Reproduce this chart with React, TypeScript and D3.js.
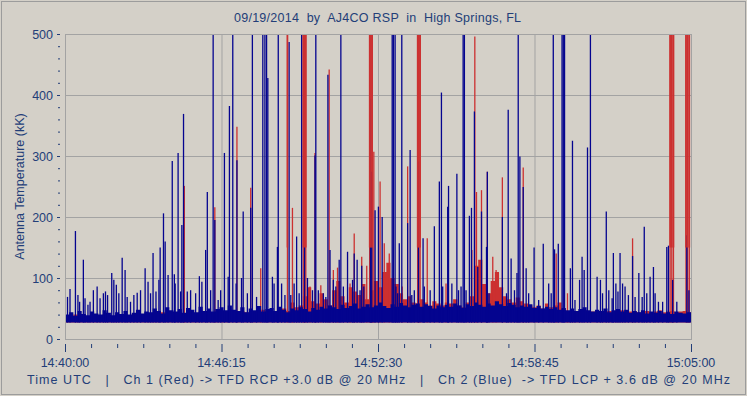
import React from 'react';
import * as d3 from 'd3';

const W = 747;
const H = 396;

const titleText = '09/19/2014  by  AJ4CO RSP  in  High Springs, FL';
const footerText = 'Time UTC   |   Ch 1 (Red) -> TFD RCP +3.0 dB @ 20 MHz   |   Ch 2 (Blue)  -> TFD LCP + 3.6 dB @ 20 MHz';
const yAxisTitle = 'Antenna Temperature (kK)';

// seconds after 14:40:00
const xTickSeconds = [0, 375, 750, 1125, 1500];
const xTickLabels = ['14:40:00', '14:46:15', '14:52:30', '14:58:45', '15:05:00'];
const yTicks = [0, 100, 200, 300, 400, 500];

// [seconds, kK] spikes of channel 2 (blue)
const blueSpikes: [number, number][] = [
  [6, 69], [12, 82], [25, 177], [31, 72], [35, 61], [44, 130], [48, 67], [55, 56], [60, 61], [68, 80],
  [77, 86], [84, 67], [92, 75], [97, 78], [102, 72], [112, 108], [117, 97], [123, 89], [129, 75], [137, 133],
  [144, 113], [149, 69], [157, 61], [165, 72], [173, 76], [181, 80], [192, 116], [199, 94], [205, 75], [211, 141],
  [218, 78], [225, 97], [228, 150], [236, 206], [240, 160], [247, 105], [257, 292], [262, 106], [264, 91], [271, 305],
  [277, 78], [280, 187], [284, 369], [293, 78], [301, 80], [313, 75], [322, 103], [328, 94], [337, 146], [341, 241],
  [349, 80], [355, 520], [359, 195], [367, 64], [373, 80], [382, 305], [391, 102], [394, 382], [402, 520], [410, 91],
  [412, 293], [423, 100], [427, 209], [437, 75], [445, 215], [449, 520], [459, 69], [474, 520], [479, 520], [483, 520],
  [486, 428], [497, 102], [501, 91], [509, 151], [511, 520], [519, 91], [527, 72], [537, 487], [541, 72], [549, 91],
  [555, 168], [561, 75], [567, 520], [574, 340], [581, 100], [593, 80], [599, 301], [601, 520], [607, 80], [619, 75],
  [625, 69], [630, 433], [635, 146], [643, 97], [649, 86], [657, 130], [661, 520], [667, 86], [677, 143], [689, 97],
  [693, 140], [700, 130], [707, 80], [711, 120], [716, 86], [732, 394], [735, 274], [743, 211], [751, 217], [760, 200],
  [784, 520], [787, 520], [791, 520], [793, 86], [797, 75], [801, 157], [807, 520], [821, 190], [827, 310], [831, 72],
  [837, 80], [847, 291], [858, 165], [861, 86], [875, 80], [885, 185], [897, 258], [902, 404], [905, 86], [917, 217],
  [919, 251], [927, 91], [939, 271], [943, 80], [949, 86], [954, 520], [957, 520], [961, 80], [969, 202], [974, 215],
  [981, 373], [989, 118], [998, 209], [1010, 151], [1012, 274], [1016, 75], [1048, 200], [1058, 75], [1062, 376], [1069, 132],
  [1077, 80], [1083, 108], [1086, 520], [1090, 299], [1098, 249], [1105, 116], [1111, 75], [1124, 150], [1135, 64], [1146, 156],
  [1159, 91], [1165, 75], [1170, 520], [1173, 147], [1182, 156], [1191, 520], [1194, 520], [1197, 520], [1211, 116], [1216, 325],
  [1222, 64], [1233, 97], [1239, 135], [1244, 113], [1252, 314], [1259, 520], [1275, 102], [1283, 97], [1288, 75], [1297, 209],
  [1303, 80], [1311, 67], [1314, 141], [1320, 91], [1325, 78], [1330, 141], [1336, 91], [1342, 86], [1350, 72], [1360, 136],
  [1366, 69], [1375, 108], [1383, 69], [1388, 184], [1394, 75], [1402, 102], [1410, 118], [1414, 75], [1422, 61], [1432, 61],
  [1442, 151], [1446, 153], [1456, 97], [1466, 61], [1490, 170], [1495, 80],
];

// [seconds, kK] spikes of channel 1 (red)
const redSpikes: [number, number][] = [
  [286, 251], [359, 216], [412, 348], [445, 248], [469, 116], [533, 520], [545, 215], [571, 520], [574, 520], [577, 520],
  [587, 86], [599, 305], [613, 88], [633, 442], [643, 113], [653, 117], [683, 91], [693, 173], [711, 135], [723, 120],
  [730, 520], [733, 520], [736, 520], [740, 307], [755, 258], [765, 157], [777, 140], [808, 86], [821, 283], [845, 520],
  [848, 520], [851, 520], [868, 165], [913, 91], [975, 146], [982, 496], [986, 241], [998, 244], [1012, 274], [1025, 135],
  [1033, 113], [1048, 265], [1098, 281], [1177, 140], [1204, 75], [1360, 165], [1450, 520], [1454, 520], [1458, 520],
  [1488, 520], [1492, 520], [1496, 520],
];

// dense noise level per 10 s bucket
const noiseBucketSeconds = 10;
const blueNoise = [
  40, 44, 38, 46, 41, 39, 45, 42, 40, 47, 43, 39, 44, 41, 46, 40, 43, 48, 42, 45,
  44, 50, 46, 42, 52, 47, 45, 49, 43, 51, 48, 44, 53, 46, 50, 45, 49, 52, 47, 55,
  48, 46, 52, 44, 50, 47, 54, 45, 49, 51, 46, 53, 48, 44, 50, 47, 52, 49, 45, 51,
  48, 53, 50, 55, 52, 49, 56, 51, 54, 58, 50, 53, 57, 52, 55, 60, 54, 51, 57, 53,
  59, 55, 52, 56, 58, 53, 57, 54, 50, 55, 52, 56, 53, 58, 55, 51, 57, 54, 60, 56,
  53, 58, 55, 62, 57, 54, 59, 56, 52, 55, 53, 57, 51, 54, 50, 53, 49, 52, 48, 51,
  47, 50, 46, 49, 52, 47, 45, 48, 46, 50, 44, 47, 49, 45, 48, 43, 46, 44, 47, 42,
  45, 43, 46, 42, 44, 41, 45, 43, 42, 44,
];
const redNoise = [
  38, 36, 40, 37, 39, 36, 41, 38, 37, 40, 38, 36, 40, 37, 39, 36, 41, 38, 37, 40,
  40, 42, 39, 44, 41, 40, 43, 45, 41, 44, 42, 40, 45, 42, 44, 41, 43, 46, 42, 44,
  45, 43, 46, 44, 42, 46, 44, 48, 45, 43, 45, 48, 50, 46, 60, 52, 55, 70, 85, 62,
  58, 75, 65, 55, 80, 95, 70, 60, 85, 78, 72, 90, 65, 80, 95, 85, 110, 125, 100, 90,
  75, 65, 70, 60, 58, 65, 60, 55, 62, 58, 55, 60, 58, 65, 55, 52, 60, 70, 120, 130,
  90, 75, 95, 110, 85, 70, 65, 60, 68, 62, 58, 55, 52, 55, 50, 58, 52, 55, 60, 50,
  45, 46, 44, 45, 47, 44, 45, 46, 44, 45, 46, 44, 45, 47, 44, 45, 46, 44, 45, 46,
  44, 45, 47, 44, 45, 46, 44, 45, 46, 44,
];
const noiseFloor = 27;

const BG = '#d4d0c8';
const GRID = '#a3a3a3';
const TEXT = '#233e78';
const BLUE = '#04048f';
const RED = '#cc3030';
const FONT = '"Liberation Sans", Arial, sans-serif';

export default function App() {
  const L = 65, R = 691, T = 34, B = 339;
  const x = d3.scaleLinear().domain([0, 1500]).range([L, R]);
  const y = d3.scaleLinear().domain([0, 500]).range([B, T]);

  const noiseArea = d3
    .area<number>()
    .x((_, i) => x(Math.min(1500, i * noiseBucketSeconds)))
    .y0(y(noiseFloor))
    .y1((d) => y(d))
    .curve(d3.curveStepAfter);

  const withEnd = (a: number[]) => [...a, a[a.length - 1]];

  const minorX = d3.range(0, 1500.1, 62.5);
  const minorY = d3.range(0, 500.1, 20);

  const spike = (d: [number, number], i: number, color: string) => (
    <line
      key={color + i}
      x1={x(d[0])}
      x2={x(d[0])}
      y1={y(noiseFloor)}
      y2={y(Math.min(d[1], 505))}
      stroke={color}
      strokeWidth={1.3}
    />
  );

  return (
    <div style={{ position: 'fixed', left: 0, top: 0 }}>
      <svg width={W} height={H} style={{ display: 'block', background: BG }} fontFamily={FONT}>
        <rect x={0} y={0} width={W} height={H} fill={BG} />
        <rect x={1.5} y={1.5} width={W - 3} height={H - 3} fill="none" stroke="#9c9c9c" strokeWidth={1} />
        <defs>
          <clipPath id="plotClip">
            <rect x={L} y={T} width={R - L} height={B - T} />
          </clipPath>
        </defs>
        {yTicks.slice(1, -1).map((v) => (
          <line key={'gy' + v} x1={L} x2={R} y1={y(v) + 0.5} y2={y(v) + 0.5} stroke={GRID} />
        ))}
        {xTickSeconds.slice(1, -1).map((s) => (
          <line key={'gx' + s} x1={x(s) + 0.5} x2={x(s) + 0.5} y1={T} y2={B} stroke={GRID} />
        ))}
        <g clipPath="url(#plotClip)">
          <path d={noiseArea(withEnd(redNoise)) || ''} fill={RED} />
          {redSpikes.map((d, i) => spike(d, i, RED))}
          <path d={noiseArea(withEnd(blueNoise)) || ''} fill={BLUE} />
          {blueSpikes.map((d, i) => spike(d, i, BLUE))}
          {redSpikes.filter((d) => d[1] >= 500).map((d, i) => (
            <line key={'rt' + i} x1={x(d[0])} x2={x(d[0])} y1={y(150)} y2={y(505)} stroke={RED} strokeWidth={1.6} />
          ))}
        </g>
        <rect x={L + 0.5} y={T + 0.5} width={R - L} height={B - T} fill="none" stroke={GRID} />
        {minorX.map((s, i) => (
          <line
            key={'tx' + i}
            x1={x(s) + 0.5}
            x2={x(s) + 0.5}
            y1={344}
            y2={i % 6 === 0 ? 352 : 348}
            stroke={TEXT}
          />
        ))}
        {xTickSeconds.map((s, i) => (
          <text key={'lx' + s} x={x(s)} y={367} textAnchor="middle" fontSize={12.5} fill={TEXT}>
            {xTickLabels[i]}
          </text>
        ))}
        {minorY.map((v, i) => (
          <line
            key={'ty' + i}
            x1={i % 5 === 0 ? 57 : 58}
            x2={60}
            y1={y(v) + 0.5}
            y2={y(v) + 0.5}
            stroke={TEXT}
          />
        ))}
        {yTicks.map((v) => (
          <text key={'ly' + v} x={53} y={y(v) + 4.5} textAnchor="end" fontSize={12.5} fill={TEXT}>
            {v}
          </text>
        ))}
        <text
          transform={`translate(24,${(T + B) / 2}) rotate(-90)`}
          textAnchor="middle"
          fontSize={12.5}
          fill={TEXT}
        >
          {yAxisTitle}
        </text>
        <text x={234} y={22} fontSize={12.5} fill={TEXT} textLength={287} lengthAdjust="spacing" style={{ whiteSpace: 'pre' }}>
          {titleText}
        </text>
        <text x={27} y={384} fontSize={12.5} fill={TEXT} textLength={703} lengthAdjust="spacing" style={{ whiteSpace: 'pre' }}>
          {footerText}
        </text>
      </svg>
    </div>
  );
}
